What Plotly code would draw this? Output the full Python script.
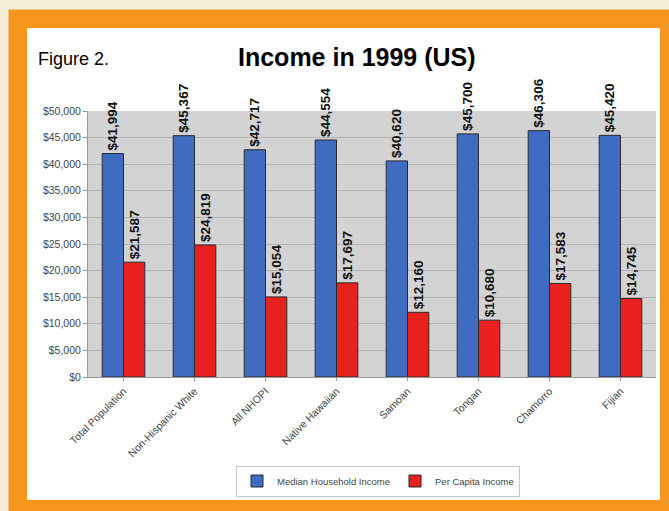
import plotly.graph_objects as go

categories = ["Total Population", "Non-Hispanic White", "All NHOPI", "Native Hawaiian",
              "Samoan", "Tongan", "Chamorro", "Fijian"]
median_household = [41994, 45367, 42717, 44554, 40620, 45700, 46306, 45420]
per_capita = [21587, 24819, 15054, 17697, 12160, 10680, 17583, 14745]
series_names = ["Median Household Income", "Per Capita Income"]
y_ticks = list(range(0, 50001, 5000))

W, H = 669, 511
L, R, T, B = 88, 13, 111, 134
pw, ph = W - L - R, H - T - B

def px(x):
    return (x - L) / pw

def py(y):
    return (H - B - y) / ph

fig = go.Figure()
common = dict(textposition="outside", textangle=-90, cliponaxis=False, constraintext="none",
              textfont=dict(family="Liberation Sans", size=13.5, color="#111", weight="bold"),
              marker_line=dict(color="#2a2a2a", width=1))
fig.add_trace(go.Bar(x=categories, y=median_household, name=series_names[0],
                     marker_color="#3f6cc2",
                     text=[f"${v:,}" for v in median_household], **common))
fig.add_trace(go.Bar(x=categories, y=per_capita, name=series_names[1],
                     marker_color="#e8211f",
                     text=[f"${v:,}" for v in per_capita], **common))

shapes = [
    dict(type="rect", xref="paper", yref="paper", x0=px(8.5), x1=px(675), y0=py(520), y1=py(9.5),
         fillcolor="#f7961e", line_width=0, layer="below"),
    dict(type="rect", xref="paper", yref="paper", x0=px(27), x1=px(660), y0=py(500), y1=py(28),
         fillcolor="white", line_width=0, layer="below"),
    dict(type="rect", xref="paper", yref="paper", x0=0, x1=1, y0=0, y1=1,
         fillcolor="#d3d3d3", line_width=0, layer="below"),
]

fig.update_layout(
    width=W, height=H,
    margin=dict(l=L, r=R, t=T, b=B, pad=0),
    paper_bgcolor="#f5edd7",
    plot_bgcolor="#d3d3d3",
    barmode="group", bargap=0.4, bargroupgap=0,
    font=dict(family="Liberation Sans", size=10, color="#444"),
    shapes=shapes,
    showlegend=True,
    legend=dict(orientation="h", x=px(378), y=py(481), xanchor="center", yanchor="middle",
                bgcolor="white", bordercolor="#c8c8c8", borderwidth=1,
                font=dict(size=9.5, color="#444"), itemwidth=30, traceorder="normal"),
    annotations=[
        dict(text="Income in 1999 (US)", x=px(357), y=py(57), xref="paper", yref="paper",
             showarrow=False, xanchor="center", yanchor="middle",
             font=dict(family="Liberation Sans", size=25, color="#000", weight="bold")),
        dict(text="Figure 2.", x=px(36), y=py(59), xref="paper", yref="paper",
             showarrow=False, xanchor="left", yanchor="middle",
             font=dict(family="Liberation Sans", size=18, color="#000")),
    ],
)
fig.update_yaxes(range=[0, 50000], tickvals=y_ticks, tickformat="$,.0f",
                 showgrid=True, gridcolor="#b3b3b3", gridwidth=1,
                 ticks="outside", ticklen=4, tickcolor="#999",
                 showline=True, linecolor="#999", linewidth=1, zeroline=False,
                 tickfont=dict(size=10.5, color="#444"))
fig.update_xaxes(tickangle=-45, ticks="outside", ticklen=3, tickcolor="#999",
                 showline=True, linecolor="#999",
                 tickfont=dict(size=10.5, color="#444"))

fig.write_html("out.html")
